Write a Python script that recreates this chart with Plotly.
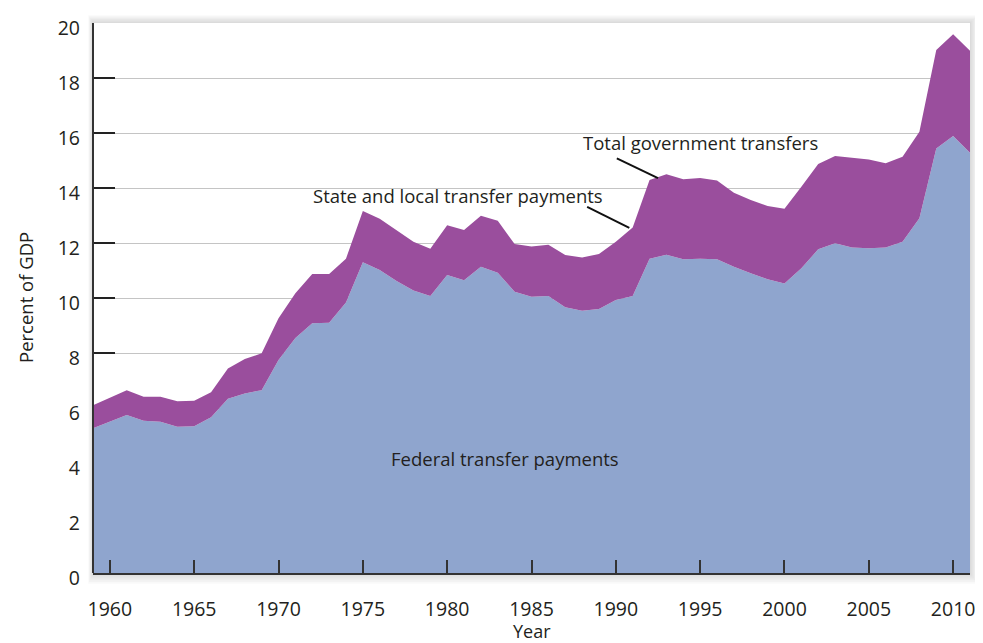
import plotly.graph_objects as go

years = list(range(1959, 2012))
federal = [5.26, 5.50, 5.75, 5.54, 5.50, 5.32, 5.34, 5.66, 6.34, 6.53, 6.65,
           7.75, 8.55, 9.08, 9.10, 9.84, 11.30, 11.02, 10.62, 10.27, 10.07,
           10.84, 10.65, 11.14, 10.92, 10.23, 10.05, 10.07, 9.66, 9.54, 9.60,
           9.93, 10.07, 11.43, 11.57, 11.41, 11.43, 11.41, 11.14, 10.90, 10.68,
           10.53, 11.08, 11.77, 11.99, 11.84, 11.81, 11.84, 12.05, 12.90, 15.44,
           15.89, 15.28]
total = [6.10, 6.37, 6.65, 6.41, 6.41, 6.25, 6.26, 6.57, 7.44, 7.78, 7.99,
         9.26, 10.17, 10.87, 10.87, 11.43, 13.16, 12.88, 12.47, 12.05, 11.79,
         12.65, 12.47, 12.99, 12.81, 11.96, 11.87, 11.94, 11.56, 11.47, 11.60,
         12.05, 12.56, 14.29, 14.50, 14.32, 14.36, 14.27, 13.83, 13.56, 13.35,
         13.25, 14.05, 14.87, 15.16, 15.10, 15.04, 14.90, 15.14, 16.05, 19.02,
         19.59, 18.99]
x_ticks = [1960, 1965, 1970, 1975, 1980, 1985, 1990, 1995, 2000, 2005, 2010]
y_ticks = [0, 2, 4, 6, 8, 10, 12, 14, 16, 18, 20]

BLUE = "#8fa5ce"
PURPLE = "#9a4e9d"
FONT = "Open Sans"
TXT = "#231f20"

fig = go.Figure()
fig.add_trace(go.Scatter(x=years, y=federal, mode="lines", line=dict(width=0, color=BLUE),
                         fill="tozeroy", fillcolor=BLUE, hoverinfo="skip", showlegend=False))
fig.add_trace(go.Scatter(x=years, y=total, mode="lines", line=dict(width=0, color=PURPLE),
                         fill="tonexty", fillcolor=PURPLE, hoverinfo="skip", showlegend=False))

# page body adds an 8px margin; figure sized so the plot area lands at x 93-970, y 23-573
fig.update_layout(
    width=975, height=635,
    margin=dict(l=85, r=13, t=15, b=70),
    paper_bgcolor="white", plot_bgcolor="white",
    font=dict(family=FONT, color=TXT, size=16),
    showlegend=False,
    xaxis=dict(range=[1959, 2011], tickvals=x_ticks, ticks="inside", ticklen=13,
               tickwidth=1.5, tickcolor="#333", showgrid=False, zeroline=False,
               showline=True, linecolor="#333", linewidth=2, automargin=False,
               tickfont=dict(size=19.5, family=FONT, color=TXT), ticklabelstandoff=18,
               layer="above traces"),
    yaxis=dict(range=[0, 20], tickvals=y_ticks, ticks="inside", ticklen=22,
               tickwidth=1.5, tickcolor="#222", showgrid=True, gridcolor="#c4c4c4",
               gridwidth=1, zeroline=False, showline=False, automargin=False,
               tickfont=dict(size=19.5, family=FONT, color=TXT), ticklabelstandoff=12,
               ticklabelshift=5,
               layer="below traces"),
)

# soft drop shadow around plot area
pw, ph = 877.0, 550.0
for i in range(6, 0, -1):
    fig.add_shape(type="rect", xref="paper", yref="paper", layer="below",
                  x0=-(i * 0.8) / pw, x1=1 + (i * 1.3) / pw,
                  y0=-(i * 1.8) / ph, y1=1 + (i * 1.3) / ph,
                  line=dict(width=0), fillcolor="rgba(0,0,0,0.022)")
fig.add_shape(type="rect", xref="paper", yref="paper", layer="below",
              x0=0, x1=1, y0=0, y1=1, line=dict(width=0), fillcolor="white")

# left axis line
fig.add_shape(type="line", xref="paper", yref="paper", x0=0, x1=0, y0=0, y1=1,
              line=dict(color="#333", width=2))

# axis titles
fig.add_annotation(xref="paper", yref="paper", x=0.5, y=0, yshift=-58, yanchor="middle",
                   xanchor="center", text="Year",
                   showarrow=False, font=dict(size=18, family=FONT, color=TXT))
fig.add_annotation(xref="paper", yref="paper", x=0, y=0.5, xshift=-68, xanchor="center",
                   yanchor="middle", textangle=-90,
                   text="Percent of GDP", showarrow=False,
                   font=dict(size=18.5, family=FONT, color=TXT))

# annotations
fig.add_annotation(x=1995.0, y=15.64, text="Total government transfers", showarrow=False,
                   font=dict(size=18.5, family=FONT, color=TXT))
fig.add_annotation(x=1980.65, y=13.71, text="State and local transfer payments", showarrow=False,
                   font=dict(size=18.5, family=FONT, color=TXT))
fig.add_annotation(x=1983.4, y=4.18, text="Federal transfer payments", showarrow=False,
                   font=dict(size=18.5, family=FONT, color=TXT))
fig.add_shape(type="line", x0=1990.06, y0=15.08, x1=1992.5, y1=14.36,
              line=dict(color="#111", width=2))
fig.add_shape(type="line", x0=1988.3, y0=13.31, x1=1990.8, y1=12.55,
              line=dict(color="#111", width=2))

fig.write_html("out.html")
